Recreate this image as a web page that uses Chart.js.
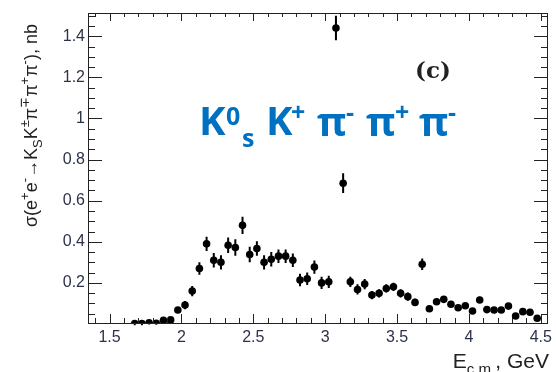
<!DOCTYPE html>
<html>
<head>
<meta charset="utf-8">
<script src="https://cdn.jsdelivr.net/npm/chart.js@4"></script>
<style>
  html, body { margin: 0; padding: 0; background: #fff; }
  #plot { display: block; }
</style>
</head>
<body>
<canvas id="plot" width="556" height="372"></canvas>
<script>
// c.m. energy bin centres, GeV
const energies = [
    1.675, 1.725, 1.775, 1.825, 1.875, 1.925, 1.975, 2.025, 2.075, 2.125,
    2.175, 2.225, 2.275, 2.325, 2.375, 2.425, 2.475, 2.525, 2.575, 2.625,
    2.675, 2.725, 2.775, 2.825, 2.875, 2.925, 2.975, 3.025, 3.075, 3.125,
    3.175, 3.225, 3.275, 3.325, 3.375, 3.425, 3.475, 3.525, 3.575, 3.625,
    3.675, 3.725, 3.775, 3.825, 3.875, 3.925, 3.975, 4.025, 4.075, 4.125,
    4.175, 4.225, 4.275, 4.325, 4.375, 4.425, 4.475
];
// cross section, nb
const crossSections = [
    0.002, 0.002, 0.006, 0.004, 0.018, 0.020, 0.068, 0.092, 0.160, 0.270,
    0.390, 0.310, 0.300, 0.383, 0.372, 0.480, 0.338, 0.367, 0.300, 0.315,
    0.330, 0.330, 0.310, 0.214, 0.220, 0.277, 0.200, 0.205, 1.440, 0.685,
    0.205, 0.168, 0.194, 0.141, 0.149, 0.173, 0.181, 0.149, 0.133, 0.105,
    0.291, 0.074, 0.108, 0.120, 0.096, 0.079, 0.089, 0.063, 0.117, 0.070,
    0.068, 0.068, 0.087, 0.039, 0.060, 0.057, 0.028
];
// statistical errors, nb
const errors = [
    0.008, 0.008, 0.008, 0.008, 0.012, 0.012, 0.015, 0.020, 0.025, 0.030,
    0.035, 0.035, 0.035, 0.038, 0.040, 0.042, 0.038, 0.035, 0.035, 0.035,
    0.033, 0.033, 0.033, 0.030, 0.030, 0.032, 0.030, 0.030, 0.060, 0.048,
    0.025, 0.025, 0.025, 0.020, 0.020, 0.020, 0.020, 0.020, 0.020, 0.018,
    0.028, 0.015, 0.015, 0.015, 0.015, 0.013, 0.013, 0.013, 0.015, 0.012,
    0.012, 0.012, 0.012, 0.010, 0.010, 0.010, 0.010
];
const xTickLabels = [1.5, 2, 2.5, 3, 3.5, 4, 4.5];
const yTickLabels = [0.2, 0.4, 0.6, 0.8, 1, 1.2, 1.4];

const labelFont = "'Liberation Sans', Arial, sans-serif";
const inkColor = '#222';

// ROOT-style frame with inward ticks on all four sides
const frameTicks = {
    id: 'frameTicks',
    afterDatasetsDraw(chart) {
        const { ctx, chartArea: a, scales: { x, y } } = chart;
        const L = Math.round(a.left), R = Math.round(a.right) - 1;
        const T = Math.round(a.top), B = Math.round(a.bottom) - 1;
        ctx.save();
        ctx.fillStyle = inkColor;
        // frame
        ctx.fillRect(L, T, R - L + 1, 1);
        ctx.fillRect(L, B, R - L + 1, 1);
        ctx.fillRect(L, T, 1, B - T + 1);
        ctx.fillRect(R, T, 1, B - T + 1);
        // x ticks, 0.1 GeV minor / 0.5 GeV major
        for (let i = 14; i <= 45; i++) {
            const px = Math.round(x.getPixelForValue(i / 10));
            const major = i % 5 === 0;
            ctx.fillRect(px, B - (major ? 9 : 5), 1, major ? 9 : 5);
            ctx.fillRect(px, T, 1, major ? 8 : 4);
        }
        // y ticks, 0.05 nb minor / 0.2 nb major
        for (let i = 1; i <= 30; i++) {
            const py = Math.round(y.getPixelForValue(i * 0.05));
            const major = i % 4 === 0;
            ctx.fillRect(L, py, major ? 14 : 7, 1);
            ctx.fillRect(R - (major ? 13 : 6), py, major ? 14 : 7, 1);
        }
        ctx.restore();
    }
};

// vertical error bars under the markers
const errorBars = {
    id: 'errorBars',
    beforeDatasetsDraw(chart) {
        const { ctx, scales: { x, y } } = chart;
        ctx.save();
        ctx.strokeStyle = '#000';
        ctx.lineWidth = 2;
        ctx.beginPath();
        energies.forEach((e, i) => {
            const px = x.getPixelForValue(e);
            ctx.moveTo(px, y.getPixelForValue(crossSections[i] - errors[i]));
            ctx.lineTo(px, y.getPixelForValue(crossSections[i] + errors[i]));
        });
        ctx.stroke();
        ctx.restore();
    }
};

// draws a run of text pieces with super/subscripts
function drawPieces(ctx, pieces, x0, y0, size) {
    let x = x0;
    pieces.forEach(([text, kind]) => {
        let fs = size, dy = 0;
        if (kind === 'sup') { fs = size * 0.72; dy = -size * 0.42; }
        if (kind === 'sub') { fs = size * 0.72; dy = size * 0.3; }
        ctx.font = fs + 'px ' + labelFont;
        ctx.fillText(text, x, y0 + dy);
        x += ctx.measureText(text).width;
    });
    return x - x0;
}

function piecesWidth(ctx, pieces, size) {
    let w = 0;
    pieces.forEach(([text, kind]) => {
        const fs = kind ? size * 0.72 : size;
        ctx.font = fs + 'px ' + labelFont;
        w += ctx.measureText(text).width;
    });
    return w;
}

const yTitle = [
    ['σ(e'], ['+', 'sup'], ['e'], ['-', 'sup'], ['→K'], ['S', 'sub'],
    ['K'], ['±', 'sup'], ['π'], ['∓', 'sup'], ['π'], ['+', 'sup'],
    ['π'], ['-', 'sup'], ['), nb']
];
const xTitle = [['E'], ['c.m.', 'sub'], [', GeV']];

const annotations = {
    id: 'annotations',
    afterDraw(chart) {
        const { ctx } = chart;
        ctx.save();
        ctx.fillStyle = inkColor;
        ctx.textBaseline = 'alphabetic';
        ctx.textAlign = 'left';

        // y axis title, reading upwards
        ctx.save();
        ctx.translate(37, 227);
        ctx.rotate(-Math.PI / 2);
        drawPieces(ctx, yTitle, 0, 0, 18);
        ctx.restore();

        // x axis title, right aligned to the frame
        const xw = piecesWidth(ctx, xTitle, 21);
        drawPieces(ctx, xTitle, 549 - xw, 368, 21);

        // panel tag
        ctx.font = "bold 23px 'DejaVu Serif', 'Liberation Serif', serif";
        ctx.textAlign = 'center';
        ctx.fillText('(c)', 433, 78);

        // final state label
        ctx.fillStyle = '#0070c0';
        ctx.textAlign = 'left';
        const big = "bold 40px 'Open Sans', sans-serif";
        const small = "bold 25px 'Open Sans', sans-serif";
        const put = (font, text, x, yb) => { ctx.font = font; ctx.fillText(text, x, yb); };
        put(big, 'K', 199, 135);
        put(small, '0', 226, 125);
        put(small, 's', 242, 147);
        put(big, 'K', 266, 135);
        put(small, '+', 291, 121);
        put(big, 'π', 317, 136);
        put(small, '-', 346, 121);
        put(big, 'π', 366, 136);
        put(small, '+', 395, 121);
        put(big, 'π', 419, 136);
        put(small, '-', 448, 121);
        ctx.restore();
    }
};

new Chart(document.getElementById('plot'), {
    type: 'scatter',
    data: {
        datasets: [{
            data: energies.map((e, i) => ({ x: e, y: crossSections[i] })),
            pointRadius: 3.8,
            pointBackgroundColor: '#000',
            pointBorderWidth: 0
        }]
    },
    options: {
        responsive: false,
        animation: false,
        devicePixelRatio: 1,
        layout: { padding: { top: 12, right: 6, left: 0, bottom: 0 } },
        plugins: { legend: { display: false }, tooltip: { enabled: false } },
        scales: {
            x: {
                type: 'linear',
                min: 1.35,
                max: 4.55,
                afterBuildTicks(scale) { scale.ticks = xTickLabels.map(v => ({ value: v })); },
                afterFit(scale) { scale.height = 48; },
                grid: { display: false, drawTicks: false },
                border: { display: false },
                ticks: {
                    padding: 4, maxRotation: 0, color: '#2b3348',
                    font: { family: labelFont, size: 16 },
                    callback: v => String(v)
                }
            },
            y: {
                type: 'linear',
                min: 0,
                max: 1.515,
                afterBuildTicks(scale) { scale.ticks = yTickLabels.map(v => ({ value: v })); },
                afterFit(scale) { scale.width = 88; },
                grid: { display: false, drawTicks: false },
                border: { display: false },
                ticks: {
                    padding: 3, color: '#2b3348',
                    font: { family: labelFont, size: 16 },
                    callback: v => String(v)
                }
            }
        }
    },
    plugins: [frameTicks, errorBars, annotations]
});
</script>
</body>
</html>
